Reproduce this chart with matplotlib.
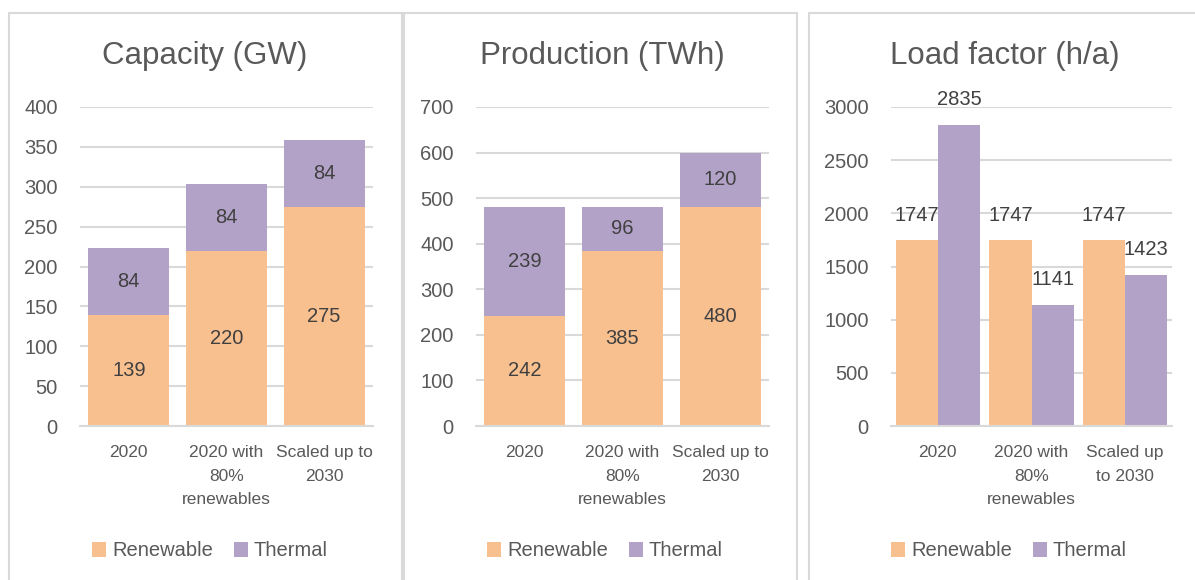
from matplotlib import pyplot as plt
from matplotlib.patches import Rectangle
import numpy as np

plt.rcParams['font.family'] = ['Liberation Sans', 'DejaVu Sans']

categories = ['2020', '2020 with\n80%\nrenewables', 'Scaled up to\n2030']
categories_lf = ['2020', '2020 with\n80%\nrenewables', 'Scaled up\nto 2030']

cap_renew = [139, 220, 275]
cap_thermal = [84, 84, 84]

prod_renew = [242, 385, 480]
prod_thermal = [239, 96, 120]

lf_renew = [1747, 1747, 1747]
lf_thermal = [2835, 1141, 1423]

ORANGE = '#F9C08F'
PURPLE = '#B3A2C7'
GRID = '#D9D9D9'
TICK = '#595959'
LABEL = '#404040'

W, H = 1195, 580
fig = plt.figure(figsize=(W / 100, H / 100), dpi=100)

Y_TOP, Y_BOT = 107, 426


def px_axes(x0, x1, y0, y1):
    return fig.add_axes([x0 / W, 1 - y1 / H, (x1 - x0) / W, (y1 - y0) / H])


def style(ax, ymax, step, cats):
    ax.set_ylim(0, ymax)
    ax.set_xlim(-0.5, 2.5)
    ax.set_yticks(np.arange(0, ymax + 1, step))
    ax.set_xticks(range(3))
    ax.set_xticklabels(cats, linespacing=1.7)
    ax.yaxis.grid(True, color=GRID, lw=1.5)
    ax.set_axisbelow(True)
    for s in ['top', 'right', 'left']:
        ax.spines[s].set_visible(False)
    ax.spines['bottom'].set_color(GRID)
    ax.spines['bottom'].set_linewidth(1.5)
    ax.tick_params(axis='y', length=0, pad=16, labelsize=14.5, labelcolor=TICK)
    ax.tick_params(axis='x', length=0, pad=14, labelsize=12.5, labelcolor=TICK)


def legend(ax, cx):
    ax.legend(loc='center', bbox_to_anchor=(cx / W, 1 - 551 / H),
              bbox_transform=fig.transFigure, ncol=2, frameon=False,
              fontsize=14.5, handlelength=0.7, handleheight=0.7,
              handletextpad=0.3, columnspacing=1.0, labelcolor=TICK)


def stacked(ax, renew, thermal):
    x = np.arange(3)
    b1 = ax.bar(x, renew, 0.83, color=ORANGE, label='Renewable')
    b2 = ax.bar(x, thermal, 0.83, bottom=renew, color=PURPLE, label='Thermal')
    ax.bar_label(b1, label_type='center', fontsize=14.5, color=LABEL)
    ax.bar_label(b2, label_type='center', fontsize=14.5, color=LABEL)


# panel frames
for x0, x1 in [(9, 402), (404, 797), (809, 1205)]:
    fig.add_artist(Rectangle((x0 / W, -0.05), (x1 - x0) / W, 1.05 - 13 / H,
                             transform=fig.transFigure, fill=False,
                             edgecolor=GRID, lw=1.5))

# Capacity
ax1 = px_axes(80, 373, Y_TOP, Y_BOT)
stacked(ax1, cap_renew, cap_thermal)
style(ax1, 400, 50, categories)
legend(ax1, 210)
fig.text(205 / W, 1 - 56 / H, 'Capacity (GW)', ha='center', va='center',
         fontsize=22.5, color=TICK)

# Production
ax2 = px_axes(476, 769, Y_TOP, Y_BOT)
stacked(ax2, prod_renew, prod_thermal)
style(ax2, 700, 100, categories)
legend(ax2, 605)
fig.text(602 / W, 1 - 56 / H, 'Production (TWh)', ha='center', va='center',
         fontsize=22.5, color=TICK)

# Load factor
ax3 = px_axes(891, 1172, Y_TOP, Y_BOT)
x = np.arange(3)
b1 = ax3.bar(x - 0.225, lf_renew, 0.45, color=ORANGE, label='Renewable')
b2 = ax3.bar(x + 0.225, lf_thermal, 0.45, color=PURPLE, label='Thermal')
for bars in (b1, b2):
    for r in bars:
        ax3.annotate(f'{int(r.get_height())}',
                     (r.get_x() + r.get_width() / 2, r.get_height()),
                     xytext=(0, 25), textcoords='offset pixels',
                     ha='center', va='center', fontsize=14.5, color=LABEL)
style(ax3, 3000, 500, categories_lf)
legend(ax3, 1009)
fig.text(1005 / W, 1 - 56 / H, 'Load factor (h/a)', ha='center', va='center',
         fontsize=22.5, color=TICK)

fig.savefig('out.png', dpi=100)
